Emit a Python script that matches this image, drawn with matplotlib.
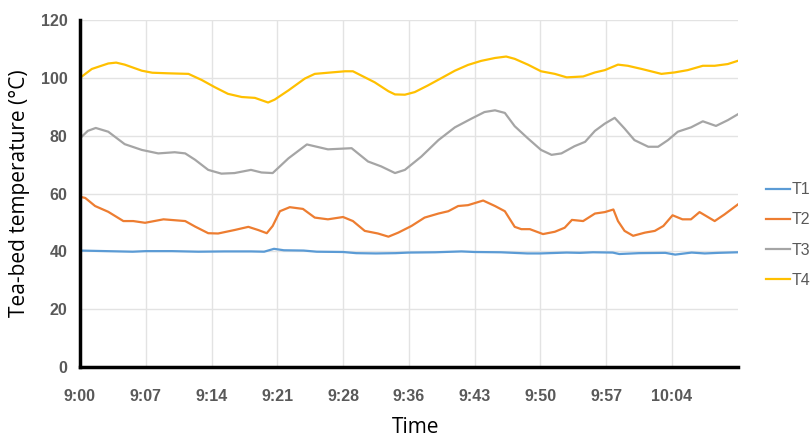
import numpy as np
import matplotlib.pyplot as plt

# x positions are in tick-interval units (one interval ~ 7 min)
tick_labels = ["9:00", "9:07", "9:14", "9:21", "9:28", "9:36", "9:43", "9:50", "9:57", "10:04"]

t1_x = [0, 0.4, 0.8, 1.0, 1.4, 1.8, 2.2, 2.6, 2.8, 2.95, 3.1, 3.4, 3.6, 4.0, 4.2, 4.5, 4.8, 5.0, 5.4,
        5.8, 6.0, 6.4, 6.6, 6.8, 7.0, 7.4, 7.6, 7.8, 8.1, 8.2, 8.5, 8.9, 9.05, 9.3, 9.5, 9.7, 10.0]
t1_y = [40.3, 40.1, 39.9, 40.1, 40.1, 39.9, 40.0, 40.0, 39.9, 40.9, 40.4, 40.3, 39.9, 39.8, 39.4, 39.3,
        39.4, 39.6, 39.7, 40.0, 39.8, 39.7, 39.5, 39.3, 39.3, 39.6, 39.5, 39.7, 39.6, 39.1, 39.4, 39.5,
        38.9, 39.6, 39.3, 39.5, 39.7]

t2_x = [0, 0.08, 0.23, 0.43, 0.66, 0.81, 0.99, 1.27, 1.6, 1.75, 1.95, 2.1, 2.35, 2.56, 2.71, 2.84,
        2.93, 3.04, 3.19, 3.39, 3.57, 3.77, 4.0, 4.15, 4.33, 4.53, 4.69, 4.84, 5.04, 5.24, 5.45, 5.6,
        5.75, 5.9, 6.13, 6.31, 6.46, 6.61, 6.71, 6.84, 7.04, 7.22, 7.37, 7.48, 7.65, 7.83, 7.98, 8.11,
        8.18, 8.28, 8.41, 8.59, 8.74, 8.87, 9.01, 9.16, 9.29, 9.42, 9.65, 9.8, 10.0]
t2_y = [58.9, 58.5, 55.7, 53.7, 50.5, 50.5, 49.9, 51.1, 50.5, 48.6, 46.3, 46.2, 47.4, 48.5, 47.4, 46.3,
        48.8, 53.9, 55.3, 54.7, 51.7, 51.1, 51.9, 50.5, 47.1, 46.2, 45.1, 46.5, 48.8, 51.7, 53.1, 53.9,
        55.7, 56.0, 57.6, 55.7, 53.9, 48.5, 47.7, 47.7, 46.0, 46.8, 48.2, 50.9, 50.5, 53.1, 53.6, 54.5,
        50.5, 47.1, 45.4, 46.5, 47.1, 48.8, 52.5, 51.1, 51.1, 53.6, 50.5, 52.8, 56.2]

t3_x = [0, 0.12, 0.24, 0.43, 0.68, 0.94, 1.19, 1.44, 1.6, 1.75, 1.95, 2.15, 2.35, 2.6, 2.76, 2.93,
        3.17, 3.45, 3.77, 4.13, 4.38, 4.58, 4.79, 4.94, 5.19, 5.45, 5.7, 5.95, 6.15, 6.31, 6.46, 6.61,
        6.81, 7.01, 7.17, 7.32, 7.52, 7.68, 7.83, 7.98, 8.13, 8.28, 8.43, 8.64, 8.79, 8.94, 9.09, 9.29,
        9.47, 9.67, 9.85, 10.0]
t3_y = [79.1, 81.7, 82.7, 81.4, 77.1, 75.1, 73.9, 74.3, 73.9, 71.7, 68.2, 66.9, 67.1, 68.2, 67.3, 67.1,
        72.2, 77.0, 75.3, 75.7, 71.1, 69.4, 67.1, 68.2, 72.8, 78.5, 82.9, 85.9, 88.2, 88.8, 87.9, 83.3,
        79.1, 75.1, 73.4, 73.9, 76.4, 77.9, 81.7, 84.2, 86.2, 82.5, 78.5, 76.2, 76.2, 78.5, 81.4, 82.9,
        85.0, 83.4, 85.4, 87.4]

t4_x = [0, 0.18, 0.43, 0.55, 0.68, 0.94, 1.1, 1.34, 1.65, 1.85, 2.05, 2.25, 2.46, 2.66, 2.86, 2.96,
        3.17, 3.42, 3.57, 3.77, 4.03, 4.15, 4.28, 4.48, 4.69, 4.79, 4.94, 5.09, 5.29, 5.5, 5.7, 5.9,
        6.1, 6.31, 6.48, 6.61, 6.81, 7.01, 7.22, 7.4, 7.65, 7.83, 7.98, 8.18, 8.33, 8.54, 8.84, 9.04,
        9.24, 9.47, 9.65, 9.85, 10.0]
t4_y = [100.0, 103.1, 105.0, 105.3, 104.6, 102.5, 101.8, 101.6, 101.4, 99.3, 96.8, 94.5, 93.4, 93.1,
        91.5, 92.5, 95.7, 99.8, 101.4, 101.8, 102.3, 102.3, 100.8, 98.5, 95.4, 94.3, 94.2, 95.1, 97.4,
        100.0, 102.5, 104.5, 105.9, 106.9, 107.4, 106.6, 104.6, 102.3, 101.4, 100.2, 100.5, 101.9,
        102.7, 104.6, 104.2, 103.1, 101.4, 101.9, 102.7, 104.2, 104.2, 104.8, 105.9]

series = [("T1", t1_x, t1_y, "#5B9BD5"),
          ("T2", t2_x, t2_y, "#ED7D31"),
          ("T3", t3_x, t3_y, "#A5A5A5"),
          ("T4", t4_x, t4_y, "#FFC000")]

tick_font = ["Liberation Sans", "DejaVu Sans"]

fig = plt.figure(figsize=(8.11, 4.37), dpi=100)
ax = fig.add_axes([0.0986, 0.160, 0.811, 0.794])

for name, xs, ys, col in series:
	ax.plot(xs, ys, color=col, lw=1.6, label=name, solid_joinstyle='round')

ax.set_xlim(0, 10)
ax.set_ylim(0, 120)
ax.set_yticks(np.arange(0, 121, 20))
ax.set_xticks(np.arange(len(tick_labels)))
ax.set_xticklabels(tick_labels)

ax.grid(True, color="#e3e3e3", lw=1)
ax.set_axisbelow(True)
for s in ["top", "right"]:
	ax.spines[s].set_visible(False)
for s in ["left", "bottom"]:
	ax.spines[s].set_linewidth(2.5)
	ax.spines[s].set_color("black")

ax.tick_params(length=0)
ax.tick_params(axis='x', pad=16)
ax.tick_params(axis='y', pad=9)
for lab in ax.get_xticklabels() + ax.get_yticklabels():
	lab.set_fontfamily(tick_font)
	lab.set_fontweight("bold")
	lab.set_fontsize(11.5)
	lab.set_color("#595959")

ax.set_ylabel("Tea-bed temperature (°C)", fontsize=15, labelpad=8, family=["Open Sans", "DejaVu Sans"])
ax.set_xlabel("Time", fontsize=15, family=["Open Sans", "DejaVu Sans"])
ax.xaxis.set_label_coords(0.51, -0.145)

leg = ax.legend(loc="center left", bbox_to_anchor=(766 / 811, 1 - 235 / 437), bbox_transform=fig.transFigure,
                frameon=False, borderpad=0, borderaxespad=0,
                handlelength=1.5, handletextpad=0.1, labelspacing=0.95,
                prop={"family": tick_font, "size": 11.5})
for t in leg.get_texts():
	t.set_color("#595959")

fig.savefig("out.png", dpi=100)
